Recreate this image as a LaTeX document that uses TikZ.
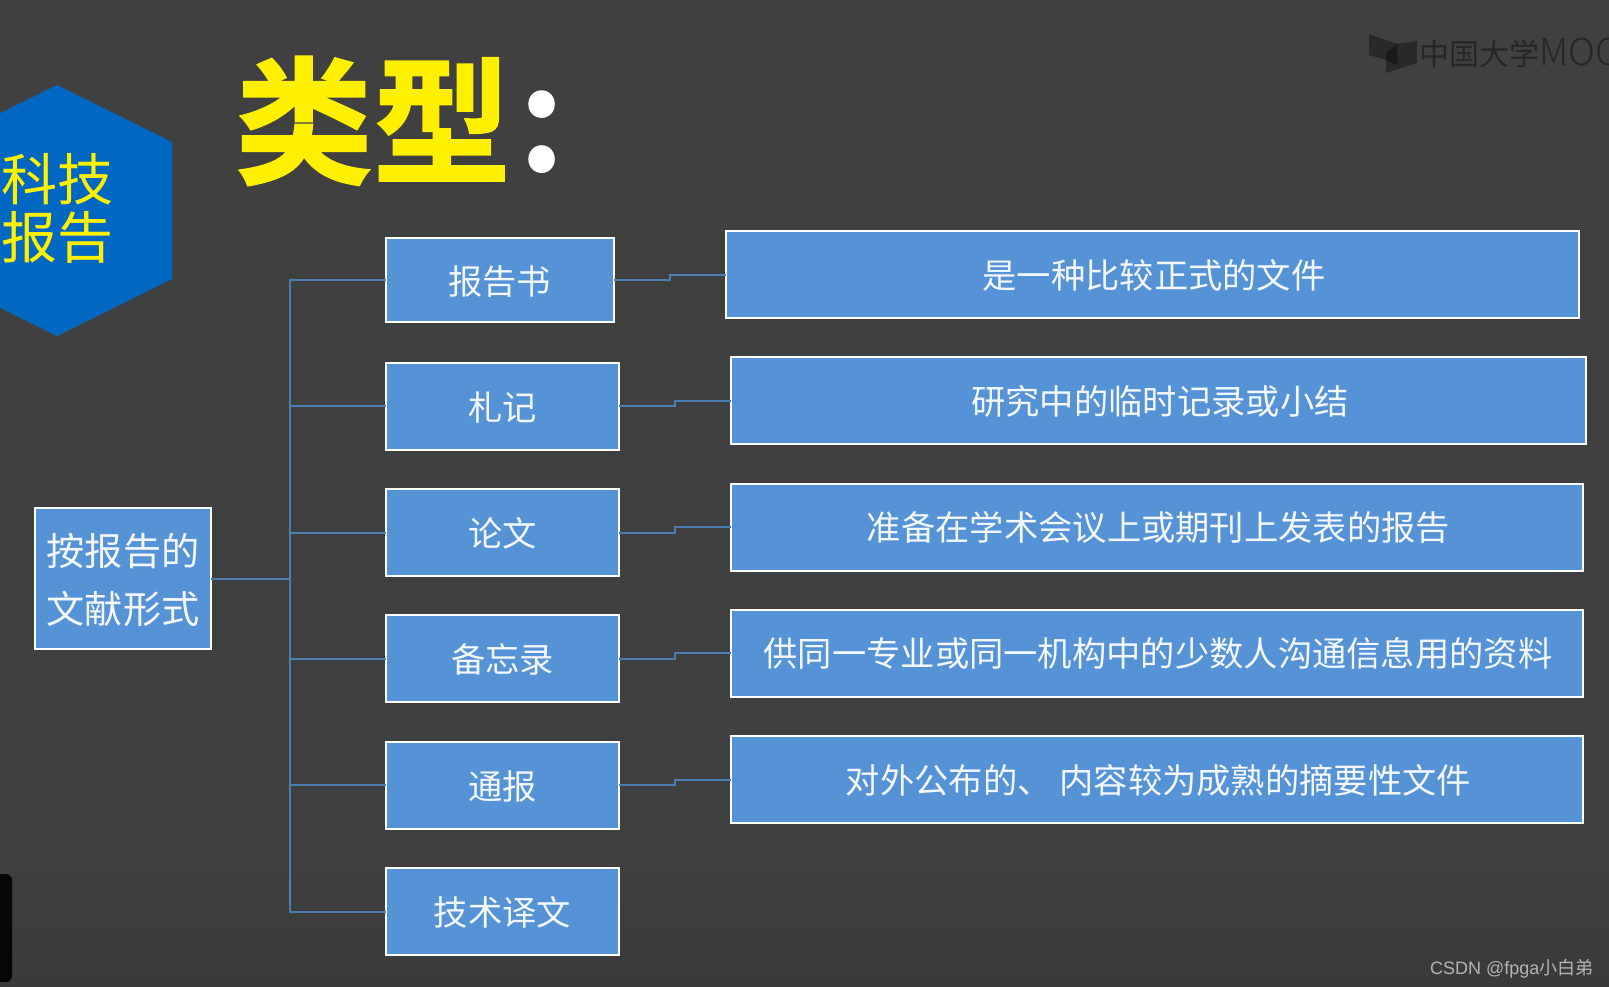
\documentclass[tikz,border=0pt]{standalone}
\usepackage{fontspec}
\usetikzlibrary{calc}
\setmainfont{Noto Sans CJK SC}
\newfontfamily\cjk{Noto Sans CJK SC}
\newfontfamily\cjkbold[FakeBold=1.1]{Noto Sans CJK SC Bold}
\newfontfamily\cjkboldplain{Noto Sans CJK SC Bold}
\newfontfamily\cjklight{Noto Sans CJK SC Light}
\newfontfamily\latinsans{Liberation Sans}
\definecolor{bgc}{HTML}{404040}
\definecolor{bgd}{HTML}{3A3A3A}
\definecolor{boxc}{HTML}{5592D6}
\definecolor{linec}{HTML}{4C7DB2}
\definecolor{hexc}{HTML}{0068C2}
\definecolor{yel}{HTML}{FFF000}
\definecolor{txtc}{HTML}{F4F7FB}
\definecolor{wmk}{HTML}{262626}
\definecolor{csdn}{HTML}{B4B4B4}
\tikzset{
  boxbase/.style={draw=white,line width=2pt,fill=boxc,text=txtc,inner sep=0pt,outer sep=0pt,align=center},
  smallbox/.style={boxbase,text height=29.5pt,text depth=1.5pt,font=\cjk\fontsize{34.3}{40}\selectfont},
  widebox/.style={boxbase,text height=29pt,text depth=2pt,font=\cjk\fontsize{34.3}{40}\selectfont},
  link/.style={draw=linec,line width=2pt},
}
\begin{document}
\begin{tikzpicture}[x=1pt,y=-1pt]
\useasboundingbox (0,0) rectangle (1609,987);
\clip (0,0) rectangle (1609,987);
\fill[bgc] (0,0) rectangle (1609,987);
\shade[top color=bgc,bottom color=bgd] (0,840) rectangle (1609,987);
% watermark logo
\fill[black,opacity=.35] (1369,34) -- (1397,44) -- (1397,65) -- (1386,60) -- (1369,55) -- cycle;
\fill[black,opacity=.35] (1386,53) -- (1397,44) -- (1417,41) -- (1417,63) -- (1386,73) -- cycle;
\node[anchor=west,inner sep=0pt,text=wmk,font=\cjk\fontsize{30}{36}\selectfont] (wm) at (1419,53) {中国大学{\cjklight\fontsize{37}{36}\selectfont MOOC}};
% hexagon
\fill[hexc] (57,85) -- (172,142) -- (172,279) -- (57,336) -- (-58,279) -- (-58,142) -- cycle;
\node[inner sep=0pt,align=center,text=yel,font=\cjk\fontsize{56}{58}\selectfont] (hex) at (57.5,208.5) {科技\\报告};
% title
\node[anchor=center,inner sep=0pt,text=yel,font=\cjkbold\fontsize{138}{150}\selectfont] (title) at (373,121) {类型};
\node[anchor=center,inner sep=0pt,text=white,font=\cjkboldplain\fontsize{145}{150}\selectfont] (colon) at (542,132) {:};
% black tab
\fill[black!90!bgc,rounded corners=6pt] (-20,874) rectangle (12,982);
% boxes
\node[boxbase,minimum width=176pt,minimum height=141pt,font=\cjk\fontsize{38.2}{58}\selectfont] (root) at (123,578.5) {\raisebox{-4pt}[\height][\depth]{\begin{tabular}{@{}c@{}}按报告的\\文献形式\end{tabular}}};
\node[smallbox,minimum width=228pt,minimum height=83pt] (s1) at (499.5,280) {报告书};
\node[smallbox,minimum width=233pt,minimum height=87pt] (s2) at (502.5,406) {札记};
\node[smallbox,minimum width=233pt,minimum height=87pt] (s3) at (502.5,532.5) {论文};
\node[smallbox,minimum width=233pt,minimum height=87pt] (s4) at (502.5,658.5) {备忘录};
\node[smallbox,minimum width=233pt,minimum height=87pt] (s5) at (502.5,785) {通报};
\node[smallbox,minimum width=233pt,minimum height=87pt] (s6) at (502.5,911.5) {技术译文};
\node[widebox,minimum width=853pt,minimum height=87pt] (l1) at (1152.5,274.5) {\hspace{3pt}是一种比较正式的文件};
\node[widebox,minimum width=855pt,minimum height=87pt] (l2) at (1158.5,400.5) {\hspace{3pt}研究中的临时记录或小结};
\node[widebox,minimum width=852pt,minimum height=87pt] (l3) at (1157,527) {\hspace{3pt}准备在学术会议上或期刊上发表的报告};
\node[widebox,minimum width=852pt,minimum height=87pt] (l4) at (1157,653) {\hspace{2pt}供同一专业或同一机构中的少数人沟通信息用的资料};
\node[widebox,minimum width=852pt,minimum height=87pt] (l5) at (1157,779.5) {\hspace{3pt}对外公布的、 内容较为成熟的摘要性文件};
% connectors
\coordinate (trunk) at (290,578.5);
\draw[link] (root.east) -- (trunk);
\foreach \n in {1,...,6}{\draw[link] (trunk) |- (s\n.west);}
\foreach \n in {1,...,5}{\draw[link] (s\n.east) -- ($(s\n.east)!.5!(l\n.west |- s\n.east)$) |- (l\n.west);}
% watermark
\node[anchor=west,inner sep=0pt,text=csdn,font=\latinsans\fontsize{18}{22}\selectfont] (mark) at (1430,969) {CSDN @fpga{\cjk 小白弟}};
\end{tikzpicture}
\end{document}
